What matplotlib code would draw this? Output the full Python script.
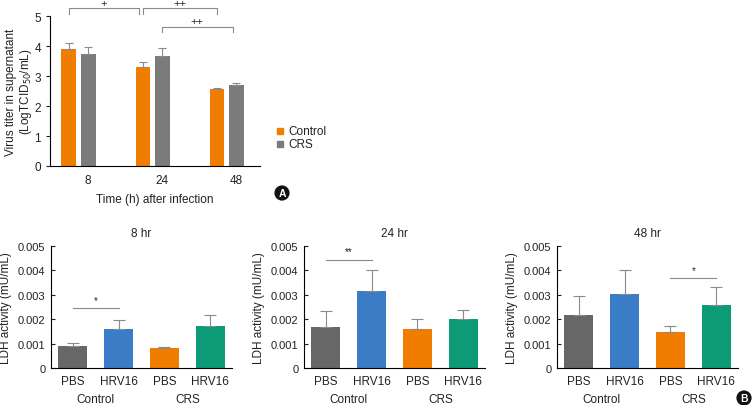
import numpy as np
import matplotlib
matplotlib.use("Agg")
import matplotlib.pyplot as plt
from matplotlib.patches import Rectangle

plt.rcParams['font.family'] = ['Liberation Sans', 'DejaVu Sans']
plt.rcParams['axes.linewidth'] = 0.8

# ---- Panel A data: virus titer
time_labels = ['8', '24', '48']
series_a = ['Control', 'CRS']
titer_control = [3.91, 3.30, 2.57]
titer_control_err = [0.20, 0.17, 0.03]
titer_crs = [3.74, 3.67, 2.69]
titer_crs_err = [0.23, 0.26, 0.08]

# ---- Panel B data: LDH activity
conditions = ['PBS', 'HRV16', 'PBS', 'HRV16']
groups = ['Control', 'CRS']
panel_titles = ['8 hr', '24 hr', '48 hr']
ldh_mean = [
    [0.00089, 0.00160, 0.00082, 0.00173],
    [0.00170, 0.00317, 0.00158, 0.00200],
    [0.00218, 0.00303, 0.00147, 0.00260],
]
ldh_err = [
    [0.00015, 0.00037, 0.00003, 0.00044],
    [0.00065, 0.00083, 0.00042, 0.00037],
    [0.00076, 0.00097, 0.00024, 0.00070],
]
# significance: (bar i, bar j, label)
ldh_sig = [(0, 1, '*'), (0, 1, '**'), (2, 3, '*')]
sig_height = [0.00245, 0.00443, 0.00367]

ORANGE = '#f07d00'
GRAY_A = '#7b7b7b'
GRAY_B = '#676767'
BLUE = '#3a7dc6'
GREEN = '#0d9a77'
ERR = '#8a8a8a'
TXT = '#222222'
FS = 8.5
TFS = 8

fig = plt.figure(figsize=(7.54, 4.06), dpi=100)

# ================= Panel A
axA = fig.add_axes([50 / 754, 1 - 167 / 406, 210 / 754, 150 / 406])
x = np.arange(len(time_labels))
w = 0.2
off = 0.13
axA.bar(x - off, titer_control, w, color=ORANGE, yerr=[np.zeros(3), titer_control_err],
        error_kw=dict(ecolor=ERR, elinewidth=0.8, capsize=3, capthick=0.8))
axA.bar(x + off, titer_crs, w, color=GRAY_A, yerr=[np.zeros(3), titer_crs_err],
        error_kw=dict(ecolor=ERR, elinewidth=0.8, capsize=3, capthick=0.8))
axA.set_xlim(-0.385, 2.45)
axA.set_ylim(0, 5)
axA.set_yticks(range(6))
axA.set_xticks(x + off)
axA.set_xticklabels(time_labels)
axA.tick_params(axis='x', length=0, labelsize=FS, pad=6, colors=TXT)
axA.tick_params(axis='y', length=3, width=0.8, labelsize=FS, direction='out', colors=TXT)
for s in ['top', 'right']:
    axA.spines[s].set_visible(False)
axA.set_xlabel('Time (h) after infection', fontsize=FS, color=TXT, labelpad=5)
axA.set_ylabel('Virus titer in supernatant\n(LogTCID$_{50}$/mL)', fontsize=FS,
               color=TXT, linespacing=1.1)
axA.yaxis.set_label_coords(-0.075, 0.5)


def bracket(ax, x1, x2, y, drop, label, ty):
    ax.plot([x1, x1, x2, x2], [y - drop, y, y, y - drop], color=ERR, lw=0.8,
            clip_on=False)
    ax.text((x1 + x2) / 2, ty, label, ha='center', va='center', fontsize=8,
            color=TXT, clip_on=False)


bracket(axA, 0 - off, 1 - off - 0.06, 5.27, 0.2, '+', 5.43)
bracket(axA, 1 - off, 2 - off, 5.27, 0.2, '++', 5.43)
bracket(axA, 1 + off, 2 + 0.08, 4.63, 0.17, '++', 4.82)

# legend
for i, (lab, col) in enumerate(zip(series_a, [ORANGE, GRAY_A])):
    yy = 1 - (132 + 13 * i) / 406
    fig.add_artist(Rectangle((277 / 754, yy - 3 / 406), 6 / 754, 6 / 406,
                             color=col, transform=fig.transFigure))
    fig.text(288 / 754, yy, lab, fontsize=FS, va='center', color=TXT)

# ================= Panel B
lefts = [51, 304, 557]
xb = np.arange(len(conditions))
colors_b = [GRAY_B, BLUE, ORANGE, GREEN]
for k in range(3):
    ax = fig.add_axes([lefts[k] / 754, 1 - 369 / 406, 181 / 754, 122 / 406])
    ax.bar(xb, ldh_mean[k], 0.63, color=colors_b,
           yerr=[np.zeros(4), ldh_err[k]],
           error_kw=dict(ecolor=ERR, elinewidth=0.8, capsize=4, capthick=0.8))
    ax.set_xlim(-0.47, 3.47)
    ax.set_ylim(0, 0.005)
    ax.set_yticks([0, 0.001, 0.002, 0.003, 0.004, 0.005])
    ax.set_yticklabels(['0', '0.001', '0.002', '0.003', '0.004', '0.005'])
    ax.set_xticks(xb)
    ax.set_xticklabels(conditions)
    ax.tick_params(axis='x', length=0, labelsize=FS, pad=5, colors=TXT)
    ax.tick_params(axis='y', length=3, width=0.8, labelsize=TFS, direction='in',
                   colors=TXT, pad=4)
    for s in ['top', 'right']:
        ax.spines[s].set_visible(False)
    ax.set_title(panel_titles[k], fontsize=FS, color=TXT, pad=7)
    ax.set_ylabel('LDH activity (mU/mL)', fontsize=FS, color=TXT)
    ax.yaxis.set_label_coords(-0.215, 0.5)
    for g, gname in enumerate(groups):
        ax.text(2 * g + 0.5, -0.00128, gname, ha='center', va='center',
                fontsize=FS, color=TXT, clip_on=False)
    i, j, lab = ldh_sig[k]
    h = sig_height[k]
    ax.plot([i, j], [h, h], color=ERR, lw=0.8)
    ax.text((i + j) / 2, h + 0.00035, lab, ha='center', va='center', fontsize=7,
            color=TXT)

# panel letters
for letter, (cx, cy) in [('A', (282, 194)), ('B', (744, 399))]:
    fig.text(cx / 754, 1 - cy / 406, letter, ha='center', va='center', color='white',
             fontsize=7.5, fontweight='bold',
             bbox=dict(boxstyle='circle,pad=0.25', fc='#111111', ec='none'))

fig.savefig('out.png', dpi=100)
